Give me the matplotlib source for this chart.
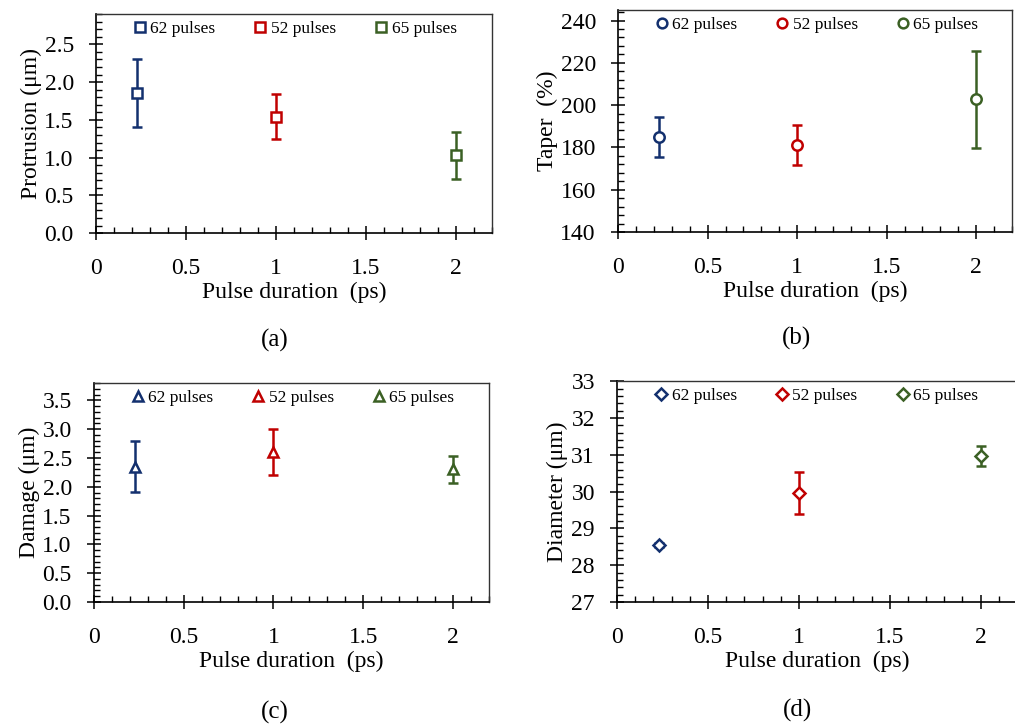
import matplotlib
matplotlib.use("Agg")
import matplotlib.pyplot as plt
from matplotlib.ticker import MultipleLocator
from matplotlib.lines import Line2D

plt.rcParams['font.family'] = ['Liberation Serif', 'DejaVu Serif']
plt.rcParams['mathtext.fontset'] = 'dejavuserif'

# data
durations = [0.23, 1.0, 2.0]
series_labels = ['62 pulses', '52 pulses', '65 pulses']
colors = ['#13306E', '#C00000', '#3B6024']

protrusion = [1.86, 1.54, 1.03]
protrusion_err = [0.45, 0.30, 0.31]

taper = [185.0, 181.3, 202.8]
taper_err = [9.6, 9.5, 23.0]

damage = [2.35, 2.61, 2.30]
damage_err = [0.44, 0.40, 0.23]

diameter = [28.55, 29.95, 30.97]
diameter_err = [0.05, 0.57, 0.28]

fig = plt.figure(figsize=(10.15, 7.24), dpi=100)

panels = [
    # rect, values, errors, marker, ylabel, ylim, major, minor, fmt, tag, tagpos
    ([0.0946, 0.678, 0.390, 0.3025], protrusion, protrusion_err, 's',
     'Protrusion (μm)', (0, 2.9), 0.5, 0.1, '{:.1f}', '(a)', (0.271, 0.530)),
    ([0.609, 0.6796, 0.388, 0.3066], taper, taper_err, 'o',
     'Taper  (%)', (140, 245), 20, 4, '{:.0f}', '(b)', (0.785, 0.533)),
    ([0.0926, 0.1685, 0.389, 0.3025], damage, damage_err, '^',
     'Damage (μm)', (0, 3.8), 0.5, 0.1, '{:.1f}', '(c)', (0.271, 0.0166)),
    ([0.608, 0.1685, 0.394, 0.305], diameter, diameter_err, 'D',
     'Diameter (μm)', (27, 33), 1, 0.2, '{:.0f}', '(d)', (0.786, 0.019)),
]

for rect, vals, errs, mk, ylab, ylim, major, minor, fmt, tag, tagpos in panels:
    ax = fig.add_axes(rect)
    ms = 6.5 if mk == 'D' else 7.5
    for x, v, e, c in zip(durations, vals, errs, colors):
        ax.errorbar(x, v, yerr=e, fmt=mk, color=c, mfc='white', mec=c,
                    mew=1.8, ms=ms, elinewidth=1.8, capsize=3.5, capthick=1.8,
                    zorder=3)
    ax.set_xlim(0, 2.2)
    ax.set_ylim(*ylim)
    ax.xaxis.set_major_locator(MultipleLocator(0.5))
    ax.xaxis.set_minor_locator(MultipleLocator(0.1))
    ax.yaxis.set_major_locator(MultipleLocator(major))
    ax.yaxis.set_minor_locator(MultipleLocator(minor))
    ax.set_xticks([0, 0.5, 1, 1.5, 2])
    ax.set_xticklabels(['0', '0.5', '1', '1.5', '2'])
    ticks = [t for t in ax.get_yticks() if ylim[0] - 1e-9 <= t <= ylim[1] + 1e-9]
    ax.set_yticks(ticks)
    ax.set_yticklabels([fmt.format(t) for t in ticks])
    ax.tick_params(which='major', direction='inout', length=10, width=1.1,
                   labelsize=17, colors='black')
    ax.tick_params(which='minor', direction='in', length=4.5, width=1.0)
    ax.tick_params(axis='x', which='major', pad=13)
    ax.tick_params(axis='y', which='major', pad=11)
    for s in ['left', 'bottom']:
        ax.spines[s].set_color('black')
        ax.spines[s].set_linewidth(1.2)
    for s in ['top', 'right']:
        ax.spines[s].set_color('#333333')
        ax.spines[s].set_linewidth(1.0)
    ax.set_xlabel('Pulse duration  (ps)', fontsize=17, labelpad=2)
    ax.set_ylabel(ylab, fontsize=17, labelpad=2)

    handles = [Line2D([], [], ls='none', marker=mk, color=c, mfc='white',
                      mec=c, mew=1.8, ms=7 if mk != 'D' else 6.5)
               for c in colors]
    ax.legend(handles, series_labels, ncol=3, loc='upper left',
              bbox_to_anchor=(0.093, 0.968), frameon=False, fontsize=12.5,
              borderpad=0, borderaxespad=0,
              handlelength=0.8, handletextpad=0.2, columnspacing=2.2)

    fig.text(tagpos[0], tagpos[1], tag, fontsize=18, ha='center', va='center')

fig.savefig('out.png', dpi=100)
